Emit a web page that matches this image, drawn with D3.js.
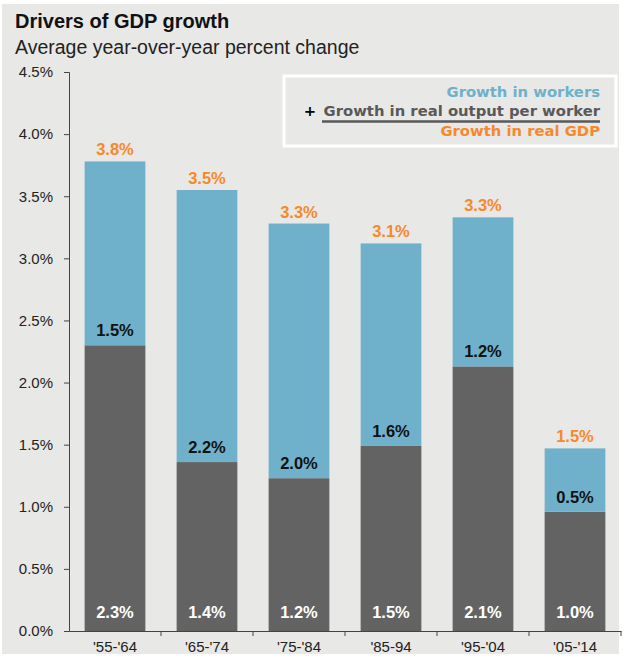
<!DOCTYPE html>
<html>
<head>
<meta charset="utf-8">
<script src="https://cdn.jsdelivr.net/npm/d3@7"></script>
<style>
  body { margin: 0; background: #fff; }
  text { font-family: Arial, "Liberation Sans", sans-serif; }
</style>
</head>
<body>
<div id="chart"></div>
<script>
// data
const periods = ["'55-'64", "'65-'74", "'75-'84", "'85-94", "'95-'04", "'05-'14"];
const outputPerWorker = [2.30, 1.36, 1.23, 1.49, 2.13, 0.96];
const workers = [1.48, 2.19, 2.05, 1.63, 1.20, 0.51];
const realGdp = [3.78, 3.55, 3.28, 3.12, 3.33, 1.47];
const outputLabels = ["2.3%", "1.4%", "1.2%", "1.5%", "2.1%", "1.0%"];
const workerLabels = ["1.5%", "2.2%", "2.0%", "1.6%", "1.2%", "0.5%"];
const gdpLabels = ["3.8%", "3.5%", "3.3%", "3.1%", "3.3%", "1.5%"];
const yTicks = [0, 0.5, 1, 1.5, 2, 2.5, 3, 3.5, 4, 4.5];

const W = 623, H = 656;
const margin = {top: 72, right: 2, bottom: 25, left: 69};
const width = W - margin.left - margin.right,
      height = H - margin.top - margin.bottom;

const colLight = "#6fb0ca", colDark = "#636363", colOrange = "#f7892b";

const svg = d3.select("#chart").append("svg")
    .attr("width", W).attr("height", H);

// background panel
svg.append("rect")
    .attr("x", 2).attr("y", 4)
    .attr("width", 617).attr("height", 650)
    .attr("fill", "#e8e8e6");

svg.append("text")
    .attr("x", 15).attr("y", 28)
    .style("font-size", "20px").style("font-weight", "bold")
    .attr("fill", "#111")
    .text("Drivers of GDP growth");
svg.append("text")
    .attr("x", 15).attr("y", 54)
    .style("font-size", "19.5px")
    .attr("fill", "#222")
    .text("Average year-over-year percent change");

const g = svg.append("g")
    .attr("transform", `translate(${margin.left}, ${margin.top})`);

const x = d3.scaleBand()
    .domain(periods)
    .range([0, width])
    .paddingInner(0.34)
    .paddingOuter(0.17);

const y = d3.scaleLinear()
    .domain([0, 4.5])
    .range([height, 0]);

// bars: dark bottom segment, light top segment
g.selectAll(".dark")
  .data(periods)
  .join("rect")
    .attr("class", "dark")
    .attr("x", d => x(d))
    .attr("width", x.bandwidth())
    .attr("y", (d, i) => y(outputPerWorker[i]))
    .attr("height", (d, i) => y(0) - y(outputPerWorker[i]))
    .attr("fill", colDark);

g.selectAll(".light")
  .data(periods)
  .join("rect")
    .attr("class", "light")
    .attr("x", d => x(d))
    .attr("width", x.bandwidth())
    .attr("y", (d, i) => y(outputPerWorker[i] + workers[i]))
    .attr("height", (d, i) => y(outputPerWorker[i]) - y(outputPerWorker[i] + workers[i]))
    .attr("fill", colLight);

// axes
const yAxis = g.append("g")
    .call(d3.axisLeft(y).tickValues(yTicks).tickSize(5).tickFormat(d => d.toFixed(1) + "%"));
yAxis.select(".domain").attr("stroke", "#444");
yAxis.selectAll(".tick line").attr("stroke", "#444");
yAxis.selectAll(".tick text")
    .attr("x", -16)
    .style("font-size", "15px").style("font-family", "Arial, 'Liberation Sans', sans-serif")
    .attr("fill", "#222");

const xAxis = g.append("g")
    .attr("transform", `translate(0, ${height})`)
    .call(d3.axisBottom(x).tickSize(0).tickSizeOuter(0));
xAxis.select(".domain").attr("stroke", "#444");
xAxis.selectAll(".tick text")
    .attr("y", 0).attr("dy", 0)
    .attr("transform", "translate(0, 21)")
    .style("font-size", "15px").style("font-family", "Arial, 'Liberation Sans', sans-serif")
    .attr("fill", "#222");
// separators between categories
g.selectAll(".sep")
  .data(periods)
  .join("line")
    .attr("class", "sep")
    .attr("x1", d => x(d) + x.step() * (1 - 0.17) ).attr("x2", d => x(d) + x.step() * (1 - 0.17))
    .attr("y1", height).attr("y2", height + 5)
    .attr("stroke", "#444");

// value labels
const lab = (cls, vals, yf, color) => g.selectAll("." + cls)
  .data(periods)
  .join("text")
    .attr("class", cls)
    .attr("x", d => x(d) + x.bandwidth() / 2)
    .attr("y", yf)
    .attr("text-anchor", "middle")
    .style("font-size", "16.5px").style("font-weight", "bold")
    .attr("fill", color)
    .text((d, i) => vals[i]);

lab("lo", outputLabels, () => y(0) - 13, "#fff");
lab("mid", workerLabels, (d, i) => y(outputPerWorker[i]) - 9, "#111");
lab("top", gdpLabels, (d, i) => y(realGdp[i]) - 6, colOrange);

// legend
svg.append("rect")
    .attr("x", 284).attr("y", 76)
    .attr("width", 332).attr("height", 70)
    .attr("fill", "none")
    .attr("stroke", "#fff").attr("stroke-width", 3);

const legX = 600;
const leg = svg.append("g")
    .style("font-size", "14.8px").style("font-weight", "bold");
const legFont = "'DejaVu Sans', sans-serif";
leg.append("text").attr("x", legX).attr("y", 97).attr("text-anchor", "end")
    .style("font-family", legFont)
    .attr("fill", colLight).text("Growth in workers");
leg.append("text").attr("x", legX).attr("y", 116).attr("text-anchor", "end")
    .style("font-family", legFont)
    .attr("fill", "#595959").text("Growth in real output per worker");
leg.append("text").attr("x", 310).attr("y", 116).attr("text-anchor", "middle")
    .style("font-family", legFont)
    .attr("fill", "#000").text("+");
leg.append("line")
    .attr("x1", 322).attr("x2", 600)
    .attr("y1", 121.5).attr("y2", 121.5)
    .attr("stroke", "#595959").attr("stroke-width", 2.5);
leg.append("text").attr("x", legX).attr("y", 136).attr("text-anchor", "end")
    .style("font-family", legFont)
    .attr("fill", colOrange).text("Growth in real GDP");
</script>
</body>
</html>
